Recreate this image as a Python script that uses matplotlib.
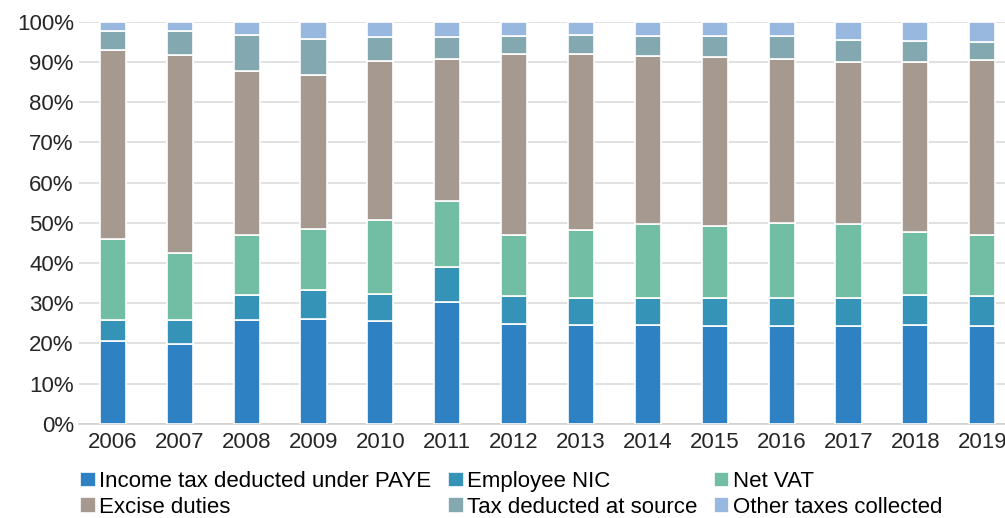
import numpy as np
import matplotlib
matplotlib.use("Agg")
from matplotlib import pyplot as plt
from matplotlib.ticker import PercentFormatter

years = [str(y) for y in range(2006, 2020)]

# shares of receipts, %
paye = [20.7, 19.9, 25.9, 26.1, 25.6, 30.2, 24.9, 24.6, 24.6, 24.4, 24.4, 24.4, 24.6, 24.4]
nic = [5.2, 6.0, 6.2, 7.2, 6.7, 8.7, 6.9, 6.8, 6.8, 6.8, 6.8, 7.0, 7.5, 7.4]
vat = [20.0, 16.6, 14.8, 15.1, 18.3, 16.6, 15.1, 16.9, 18.4, 17.9, 18.8, 18.4, 15.7, 15.1]
excise = [47.1, 49.2, 40.9, 38.4, 39.6, 35.3, 45.1, 43.7, 41.7, 42.1, 40.8, 40.2, 42.2, 43.6]
tds = [4.7, 6.0, 9.0, 9.0, 5.9, 5.3, 4.4, 4.8, 4.9, 5.3, 5.7, 5.5, 5.3, 4.5]
other = [2.3, 2.3, 3.2, 4.2, 3.9, 3.9, 3.6, 3.2, 3.6, 3.5, 3.5, 4.5, 4.7, 5.0]

series = [
    ("Income tax deducted under PAYE", paye, "#2e82c4"),
    ("Employee NIC", nic, "#3593b8"),
    ("Net VAT", vat, "#72bea5"),
    ("Excise duties", excise, "#a69a90"),
    ("Tax deducted at source", tds, "#84a8b0"),
    ("Other taxes collected", other, "#98b8e0"),
]

plt.rcParams['font.family'] = ['Liberation Sans', 'DejaVu Sans']

fig = plt.figure(figsize=(10.05, 5.18), dpi=100)
ax = fig.add_axes([0.079, 0.182, 0.935, 0.776])

x = np.arange(len(years))
bottom = np.zeros(len(years))
handles = {}
for name, vals, col in series:
    vals = np.array(vals)
    b = ax.bar(x, vals, 0.39, bottom=bottom, color=col, edgecolor="white",
               linewidth=1.2, label=name, zorder=3)
    handles[name] = b
    bottom += vals

ax.set_ylim(0, 100)
ax.set_xlim(-0.5, 13.55)
ax.set_yticks(np.arange(0, 101, 10))
ax.yaxis.set_major_formatter(PercentFormatter(decimals=0))
ax.set_xticks(x)
ax.set_xticklabels(years)
ax.tick_params(axis="both", length=0, labelsize=16, colors="#262626", pad=4)
ax.tick_params(axis="x", pad=6)
ax.grid(axis="y", color="#dcdcdc", linewidth=1.2, zorder=0)
for s in ["left", "right", "top"]:
    ax.spines[s].set_visible(False)
ax.spines["bottom"].set_color("#d0d0d0")
ax.spines["bottom"].set_linewidth(1.2)

# legend row-major order like the original
order = ["Income tax deducted under PAYE", "Excise duties", "Employee NIC",
         "Tax deducted at source", "Net VAT", "Other taxes collected"]
fig.legend([handles[n] for n in order], order, loc="lower left",
           bbox_to_anchor=(0.06, -0.038), ncol=3, frameon=False,
           handlelength=0.7, handleheight=0.7,
           handletextpad=0.15, columnspacing=0.75, labelspacing=0.2,
           prop={"family": ["Liberation Sans"], "size": 16})

fig.savefig("out.png", dpi=100)
